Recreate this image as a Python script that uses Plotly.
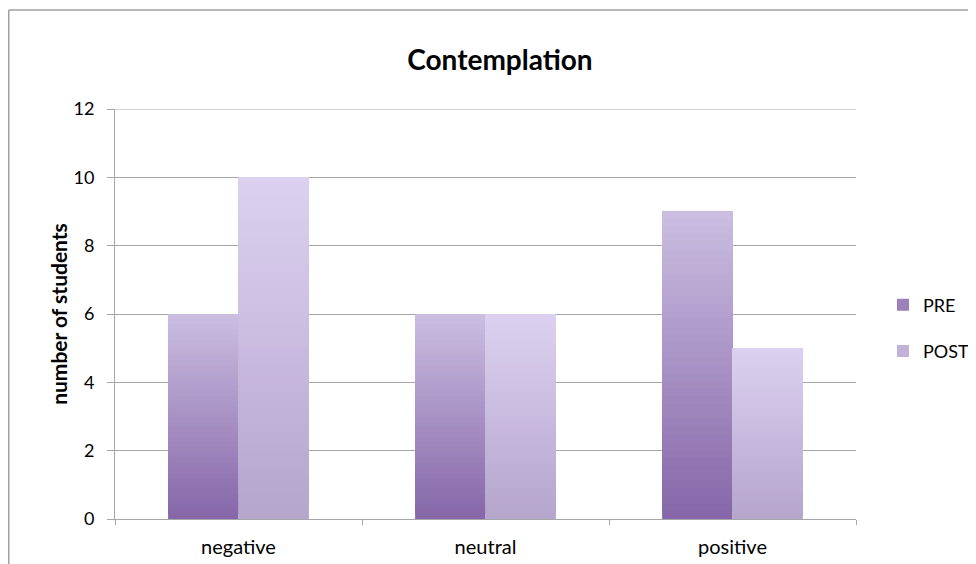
import plotly.graph_objects as go

categories = ["negative", "neutral", "positive"]
pre_values = [6, 6, 9]
post_values = [10, 6, 5]
series_names = ["PRE", "POST"]
y_ticks = [0, 2, 4, 6, 8, 10, 12]

# gradient endpoints (bottom, top) per series
grad = {
    "PRE": ((0x85, 0x66, 0xA8), (0xCB, 0xBE, 0xE1)),
    "POST": ((0xB4, 0xA5, 0xCC), (0xDD, 0xD1, 0xF1)),
}
N = 40

def mix(c0, c1, t):
    return "rgb(%d,%d,%d)" % tuple(round(a + (b - a) * t) for a, b in zip(c0, c1))

fig = go.Figure()
for name, vals in zip(series_names, [pre_values, post_values]):
    c0, c1 = grad[name]
    for k in range(N):
        t = (k + 0.5) / N
        # each layer runs from its own start up to the bar top; later layers paint over
        fig.add_trace(go.Bar(
            x=categories,
            y=[v * (N - k) / N for v in vals],
            base=[v * k / N for v in vals],
            offsetgroup=name,
            legendgroup=name,
            name=name,
            showlegend=(k == int(N * 0.3)),
            marker=dict(color=mix(c0, c1, t), line=dict(width=0)),
            hoverinfo="skip",
        ))

font_family = "Lato, 'Open Sans', sans-serif"
grid_c = "#a6a6a6"

fig.update_layout(
    width=976, height=564,
    margin=dict(l=107, r=128, t=101, b=53, autoexpand=False),
    paper_bgcolor="white", plot_bgcolor="white",
    barmode="group", bargap=0.43, bargroupgap=0,
    font=dict(family=font_family, color="#000000", size=18),
    title=dict(text="<b>Contemplation</b>", x=0.5195, xref="paper", xanchor="center",
               y=0.907, yanchor="middle", font=dict(size=28, family=font_family)),
    legend=dict(xref="container", x=0.8965, xanchor="left", y=0.466, yanchor="middle",
                font=dict(size=18), tracegroupgap=20, bgcolor="rgba(0,0,0,0)",
                itemwidth=30),
    xaxis=dict(showgrid=False, showline=True, linecolor=grid_c, linewidth=1,
               ticks="outside", tickson="boundaries", ticklen=5, tickcolor=grid_c,
               tickfont=dict(size=20), ticklabelstandoff=10, fixedrange=True),
    yaxis=dict(range=[0, 12], tickvals=y_ticks, showgrid=True, gridcolor=grid_c,
               gridwidth=1, showline=True, linecolor=grid_c, linewidth=1,
               ticks="outside", ticklen=7, tickcolor=grid_c, tickfont=dict(size=18),
               ticklabelstandoff=9, zeroline=False,
               title=dict(text="<b>number of students</b>", font=dict(size=21), standoff=0)),
    shapes=[
        dict(type="line", xref="paper", yref="y", x0=0, x1=1, y0=y_ticks[-1], y1=y_ticks[-1],
             line=dict(color=grid_c, width=1), layer="below"),
        dict(type="line", xref="paper", yref="paper", x0=-0.1434, x1=1.3, y0=1.2415, y1=1.2415,
             line=dict(color="#a0a0a0", width=1.5)),
        dict(type="line", xref="paper", yref="paper", x0=-0.1434, x1=-0.1434, y0=1.2415, y1=-0.2,
             line=dict(color="#a0a0a0", width=1.5)),
    ],
)

fig.write_html("out.html")
